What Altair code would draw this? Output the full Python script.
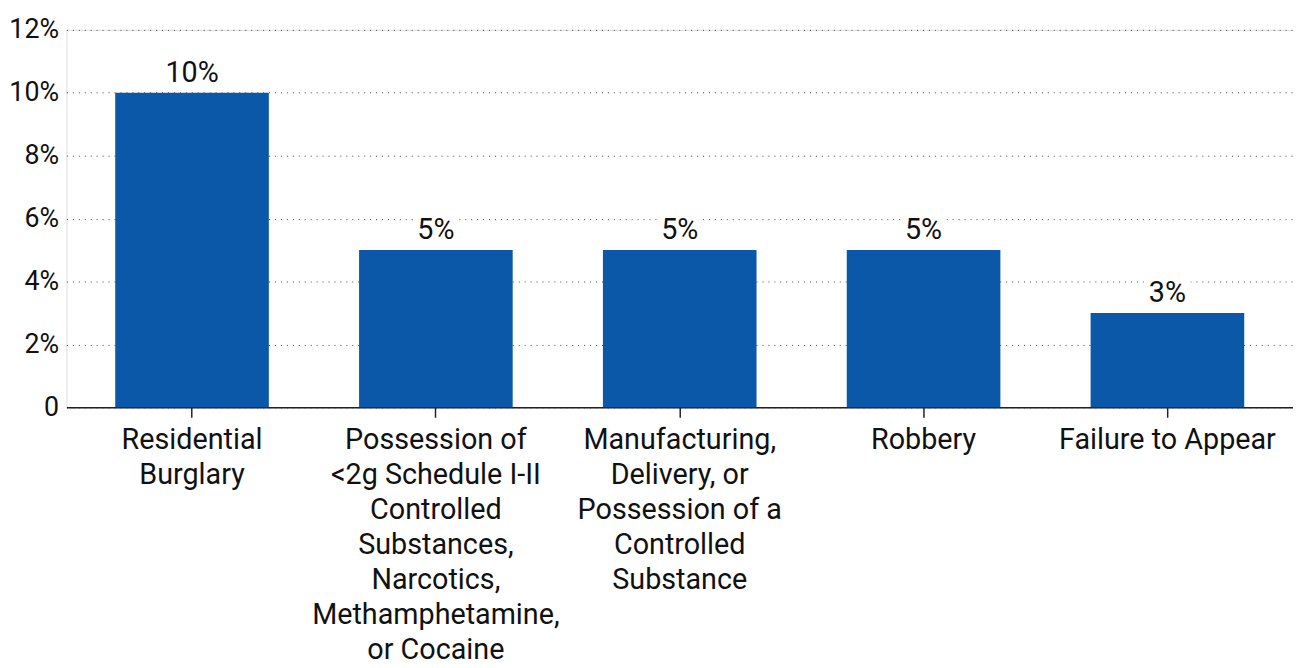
import altair as alt
import pandas as pd

categories = [
    "Residential|Burglary",
    "Possession of|<2g Schedule I-II|Controlled|Substances,|Narcotics,|Methamphetamine,|or Cocaine",
    "Manufacturing,|Delivery, or|Possession of a|Controlled|Substance",
    "Robbery",
    "Failure to Appear",
]
values = [10, 5, 5, 5, 3]
value_labels = ["10%", "5%", "5%", "5%", "3%"]

FONT = "Roboto"
BLUE = "#0c58a8"

df = pd.DataFrame({"cat": categories, "val": values, "lab": value_labels})

x = alt.X(
    "cat:N",
    sort=categories,
    title=None,
    scale=alt.Scale(paddingInner=0.37, paddingOuter=0.2),
    axis=alt.Axis(
        labelExpr="split(datum.label, '|')",
        labelAngle=0,
        labelFontSize=29,
        labelFont=FONT,
        labelColor="#111",
        labelLineHeight=35.3,
        labelPadding=9,
        labelLimit=400,
        domainColor="#222",
        domainWidth=1.5,
        tickColor="#222",
        tickSize=10,
        tickWidth=1.5,
        grid=False,
    ),
)
y = alt.Y(
    "val:Q",
    title=None,
    scale=alt.Scale(domain=[0, 12]),
    axis=alt.Axis(
        values=[0, 2, 4, 6, 8, 10, 12],
        labelExpr="datum.value == 0 ? '0' : datum.value + '%'",
        labelFontSize=27,
        labelFont=FONT,
        labelColor="#111",
        labelPadding=8,
        ticks=False,
        domain=False,
        grid=True,
        gridColor="#444",
        gridDash=[1, 5],
        gridWidth=1,
    ),
)

bars = alt.Chart(df).mark_bar(color=BLUE).encode(x=x, y=y)
halo = alt.Chart(df).mark_text(
    dy=-20, fontSize=29, font=FONT, stroke="white", strokeWidth=14, color="white"
).encode(x=alt.X("cat:N", sort=categories), y="val:Q", text="lab:N")
text = alt.Chart(df).mark_text(
    dy=-20, fontSize=29, font=FONT, color="#111"
).encode(x=alt.X("cat:N", sort=categories), y="val:Q", text="lab:N")

chart = (
    alt.layer(bars, halo, text)
    .properties(width=1238, height=381, padding={"top": 5, "left": 0, "right": 0, "bottom": 0})
    .configure_view(stroke=None)
    .configure(background="white")
)
chart.save("out.html", embed_options={"renderer": "svg", "actions": False})
